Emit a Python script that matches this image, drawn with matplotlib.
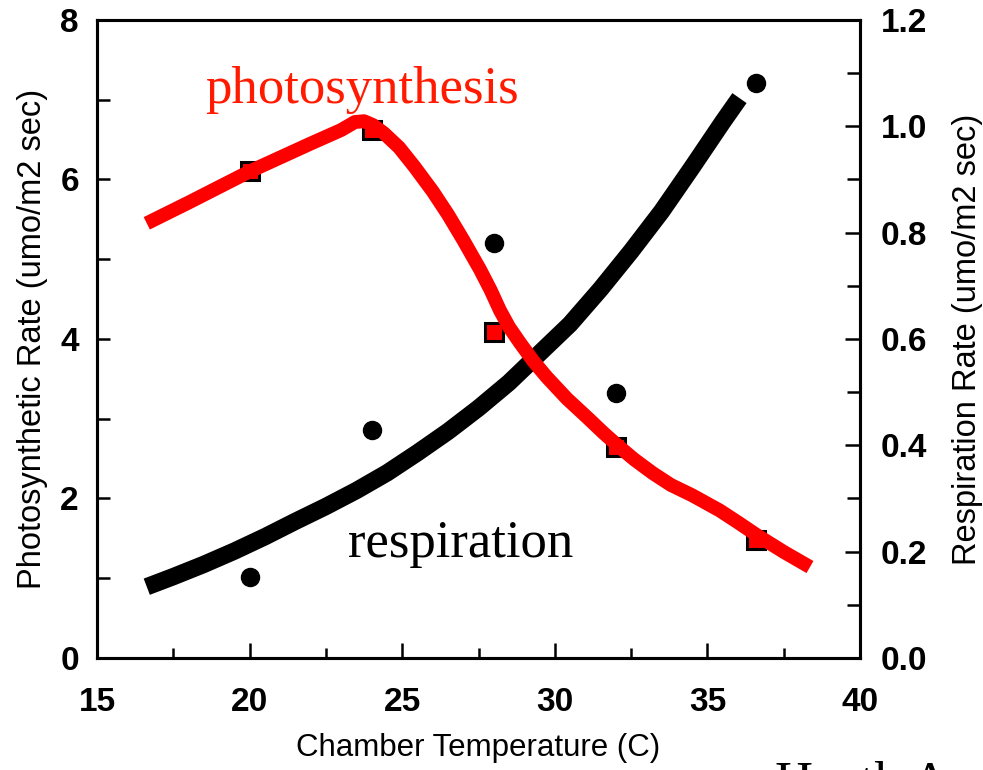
import matplotlib
matplotlib.use("Agg")
import matplotlib.pyplot as plt
from matplotlib.ticker import MultipleLocator, FormatStrFormatter

# measured points (chamber temperature, C)
temp = [20.0, 24.0, 28.0, 32.0, 36.6]
photo = [6.10, 6.62, 4.09, 2.65, 1.48]          # umol/m2 s, left axis
resp = [0.153, 0.429, 0.780, 0.499, 1.081]     # umol/m2 s, right axis

# hand-drawn fit lines
photo_fit_x = [16.63, 18.0, 20.0, 22.0, 23.0, 23.45, 23.75, 24.05, 24.4, 24.9, 25.4,
               26.0, 26.5, 27.0, 27.55, 27.9, 28.2, 28.5, 28.86, 29.3, 29.74, 30.4,
               31.05, 31.6, 32.07, 32.6, 33.2, 33.8, 34.5, 35.4, 36.0, 36.62, 37.5, 38.36]
photo_fit_y = [5.45, 5.71, 6.10, 6.45, 6.62, 6.72, 6.73, 6.68, 6.58, 6.40, 6.16,
               5.85, 5.56, 5.24, 4.87, 4.61, 4.36, 4.15, 3.95, 3.72, 3.52, 3.25,
               3.02, 2.82, 2.66, 2.49, 2.32, 2.17, 2.04, 1.85, 1.70, 1.54, 1.33, 1.14]
resp_fit_x = [16.63, 17.5, 18.5, 19.5, 20.5, 21.5, 22.5, 23.5, 24.5, 25.5, 26.5,
              27.5, 28.5, 29.5, 30.5, 31.5, 32.5, 33.5, 34.5, 35.5, 36.05]
resp_fit_y = [0.134, 0.153, 0.176, 0.201, 0.228, 0.257, 0.285, 0.315, 0.348, 0.386, 0.426,
              0.470, 0.518, 0.573, 0.628, 0.694, 0.765, 0.840, 0.923, 1.008, 1.053]

sans = "Liberation Sans"
serif = "Liberation Serif"

fig = plt.figure(figsize=(9.83, 7.70), dpi=100)
ax = fig.add_axes([0.0987, 0.1455, 0.7762, 0.8286])
ax2 = ax.twinx()

# respiration on the right axis
ax2.plot(resp_fit_x, resp_fit_y, color="black", lw=12.5, solid_capstyle="butt",
         solid_joinstyle="round")
ax2.plot(temp, resp, "o", color="black", ms=13, ls="none")

# photosynthesis on the left axis (drawn on top)
ax.plot(temp, photo, "s", mfc="red", mec="black", mew=2.2, ms=13, ls="none", zorder=2)
ax.plot(photo_fit_x, photo_fit_y, color="red", lw=10, solid_capstyle="butt",
        solid_joinstyle="round", zorder=3)
ax.set_zorder(ax2.get_zorder() + 1)
ax.patch.set_visible(False)

ax.set_xlim(15, 40)
ax.set_ylim(0, 8)
ax2.set_ylim(0, 1.2)

ax.xaxis.set_major_locator(MultipleLocator(5))
ax.xaxis.set_minor_locator(MultipleLocator(2.5))
ax.yaxis.set_major_locator(MultipleLocator(2))
ax.yaxis.set_minor_locator(MultipleLocator(1))
ax2.yaxis.set_major_locator(MultipleLocator(0.2))
ax2.yaxis.set_minor_locator(MultipleLocator(0.1))
ax2.yaxis.set_major_formatter(FormatStrFormatter("%.1f"))

for a in (ax, ax2):
    for s in a.spines.values():
        s.set_linewidth(2.2)

ax.tick_params(axis="x", which="both", direction="in", top=False, width=1.8)
ax.tick_params(axis="x", which="major", length=11, pad=21)
ax.tick_params(axis="x", which="minor", length=7.5)
ax.tick_params(axis="y", which="both", direction="in", right=False, width=1.8, length=9.5)
ax.tick_params(axis="y", which="major", pad=13)
ax2.tick_params(axis="y", which="both", direction="in", width=1.8)
ax2.tick_params(axis="y", which="major", length=11, pad=15)
ax2.tick_params(axis="y", which="minor", length=9.5)

for lab in ax.get_xticklabels() + ax.get_yticklabels() + ax2.get_yticklabels():
    lab.set_fontfamily(sans)
    lab.set_fontweight("bold")
    lab.set_fontsize(24)

ax.set_xlabel("Chamber Temperature (C)", fontfamily=sans, fontsize=22.5, labelpad=11)
ax.set_ylabel("Photosynthetic Rate (umo/m2 sec)", fontfamily=sans, fontsize=23.5, labelpad=9)
ax2.set_ylabel("Respiration Rate (umo/m2 sec)", fontfamily=sans, fontsize=23.5, labelpad=18)

ax.text(18.54, 6.96, "photosynthesis", color="#ff1a00", fontfamily=serif,
        fontsize=38, va="baseline", ha="left", zorder=5)
ax.text(23.22, 1.27, "respiration", color="black", fontfamily=serif,
        fontsize=38, va="baseline", ha="left", zorder=5)

# caption cut off at the bottom edge, as in the source image
fig.text(775 / 983, 1 - 797 / 770, "Heath A", color="black", fontfamily=serif,
         fontsize=38, va="baseline", ha="left")

fig.savefig("out.png", dpi=100)
